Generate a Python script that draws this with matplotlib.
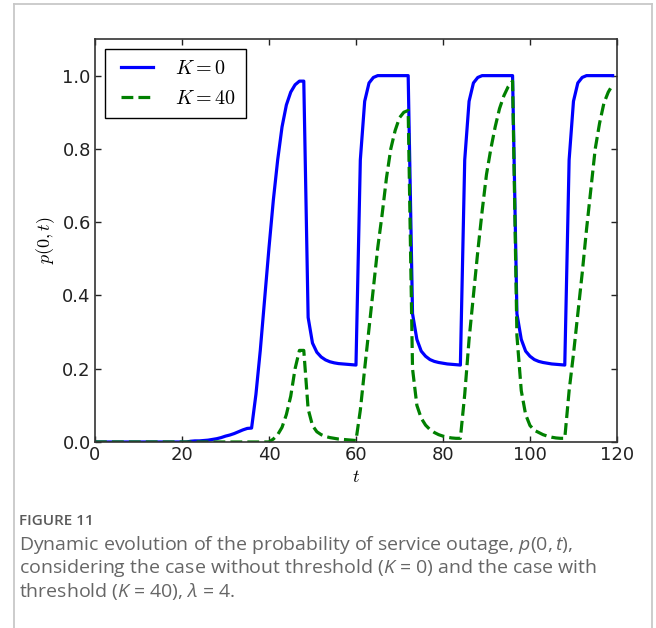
import matplotlib
matplotlib.use('Agg')
import matplotlib.pyplot as plt
from matplotlib.lines import Line2D
from matplotlib.legend_handler import HandlerLine2D

# --- data ---
t_k0 = [0, 21, 22, 23, 24, 25, 26, 27, 28, 29, 30, 31, 32, 33, 34, 35, 36,
        37, 38, 39, 40, 41, 42, 43, 44, 45, 46, 47, 48,
        49, 50, 51, 52, 53, 54, 55, 56, 57, 58, 59, 60,
        61, 62, 63, 64, 65, 72,
        73, 74, 75, 76, 77, 78, 79, 80, 81, 82, 83, 84,
        85, 86, 87, 88, 89, 96,
        97, 98, 99, 100, 101, 102, 103, 104, 105, 106, 107, 108,
        109, 110, 111, 112, 113, 119]
p_k0 = [0, 0, 0.002, 0.003, 0.003, 0.004, 0.005, 0.007, 0.009, 0.012, 0.016, 0.019, 0.023, 0.028, 0.033, 0.037, 0.038,
        0.13, 0.25, 0.39, 0.53, 0.66, 0.77, 0.86, 0.92, 0.955, 0.975, 0.985, 0.985,
        0.34, 0.27, 0.245, 0.232, 0.224, 0.219, 0.216, 0.214, 0.213, 0.212, 0.211, 0.21,
        0.77, 0.93, 0.98, 0.995, 1.0, 1.0,
        0.35, 0.28, 0.248, 0.234, 0.225, 0.22, 0.217, 0.215, 0.213, 0.212, 0.211, 0.21,
        0.77, 0.93, 0.98, 0.995, 1.0, 1.0,
        0.35, 0.28, 0.248, 0.234, 0.225, 0.22, 0.217, 0.215, 0.213, 0.212, 0.211, 0.21,
        0.77, 0.93, 0.98, 0.995, 1.0, 1.0]

t_k40 = [0, 40, 41, 42, 43, 44, 45, 46, 47, 48,
         49, 50, 51, 52, 53, 54, 55, 56, 57, 58, 59, 60,
         61, 62, 63, 64, 65, 66, 67, 68, 69, 70, 71, 72,
         73, 74, 75, 76, 77, 78, 79, 80, 81, 82, 83, 84,
         85, 86, 87, 88, 89, 90, 91, 92, 93, 94, 95, 96,
         97, 98, 99, 100, 101, 102, 103, 104, 105, 106, 107, 108,
         109, 110, 111, 112, 113, 114, 115, 116, 117, 118, 119]
p_k40 = [0, 0, 0.008, 0.02, 0.04, 0.075, 0.125, 0.2, 0.25, 0.25,
         0.09, 0.045, 0.028, 0.02, 0.015, 0.012, 0.01, 0.008, 0.007, 0.006, 0.005, 0.004,
         0.087, 0.2, 0.31, 0.42, 0.53, 0.62, 0.72, 0.8, 0.85, 0.885, 0.9, 0.905,
         0.2, 0.1, 0.065, 0.046, 0.034, 0.026, 0.02, 0.016, 0.013, 0.011, 0.01, 0.01,
         0.13, 0.28, 0.40, 0.52, 0.63, 0.73, 0.8, 0.86, 0.91, 0.945, 0.97, 0.985,
         0.29, 0.14, 0.075, 0.045, 0.032, 0.026, 0.02, 0.016, 0.013, 0.011, 0.01, 0.01,
         0.14, 0.24, 0.35, 0.46, 0.58, 0.69, 0.8, 0.87, 0.925, 0.955, 0.975]

x_ticks = [0, 20, 40, 60, 80, 100, 120]
y_ticks = [0.0, 0.2, 0.4, 0.6, 0.8, 1.0]

caption_head = "FIGURE 11"
caption_lines = [
    r"Dynamic evolution of the probability of service outage, $p(0,t)$,",
    r"considering the case without threshold ($K$ = 0) and the case with",
    r"threshold ($K$ = 40), $\lambda$ = 4.",
]

plt.rcParams['mathtext.fontset'] = 'cm'
plt.rcParams['mathtext.rm'] = 'Open Sans'
plt.rcParams['mathtext.it'] = 'Open Sans:italic'
plt.rcParams['mathtext.bf'] = 'Open Sans:bold'

fig = plt.figure(figsize=(6.56, 6.28), dpi=100)
ax = fig.add_axes([0.1448, 0.2962, 0.7957, 0.6417])

l1, = ax.plot(t_k0, p_k0, color='#0000ff', lw=2.3, label=r'$K=0$')
l2, = ax.plot(t_k40, p_k40, color='#008000', lw=2.3, ls='--', label=r'$K=40$')

ax.set_xlim(0, 120)
ax.set_ylim(0, 1.1)
ax.set_xticks(x_ticks)
ax.set_yticks(y_ticks)
ax.set_yticklabels([f'{v:.1f}' for v in y_ticks])
ax.tick_params(direction='in', length=4, width=1, top=True, right=True,
               labelsize=13, colors='#222222', pad=3)
for s in ax.spines.values():
    s.set_color('#333333')
    s.set_linewidth(1.2)

ax.set_xlabel(r'$t$', fontsize=13, labelpad=3)
ax.set_ylabel(r'$p(0,t)$', fontsize=13, labelpad=4)

# handles sit a little inside the box, as in the original legend
hmap = {l1: HandlerLine2D(xpad=0.3), l2: HandlerLine2D(xpad=0.3)}
leg = ax.legend(handler_map=hmap, loc='upper left', fontsize=14.5, fancybox=False,
                framealpha=1, edgecolor='black', handlelength=1.9, borderpad=0.5,
                labelspacing=0.55, handletextpad=1.05, borderaxespad=0.5)
leg.get_frame().set_linewidth(1.0)

# outer panel border (open at the bottom)
border = '#c8c8c8'
x0, x1 = 14 / 656, 652 / 656
ytop = 1 - 4 / 628
fig.add_artist(Line2D([x0, x0], [0, ytop], color=border, lw=1.3))
fig.add_artist(Line2D([x1, x1], [0, ytop], color=border, lw=1.3))
fig.add_artist(Line2D([x0, x1], [ytop, ytop], color=border, lw=1.3))

fig.text(19 / 656, 1 - 521 / 628, caption_head, fontsize=11, family='Open Sans',
         weight='semibold', color='#5a5a5a', va='center')
for i, line in enumerate(caption_lines):
    fig.text(19 / 656, 1 - (545 + 23.3 * i) / 628, line, fontsize=14,
             family='Open Sans', color='#666666', va='center',
             math_fontfamily='custom')

fig.savefig('out.png', dpi=100, facecolor='white')
